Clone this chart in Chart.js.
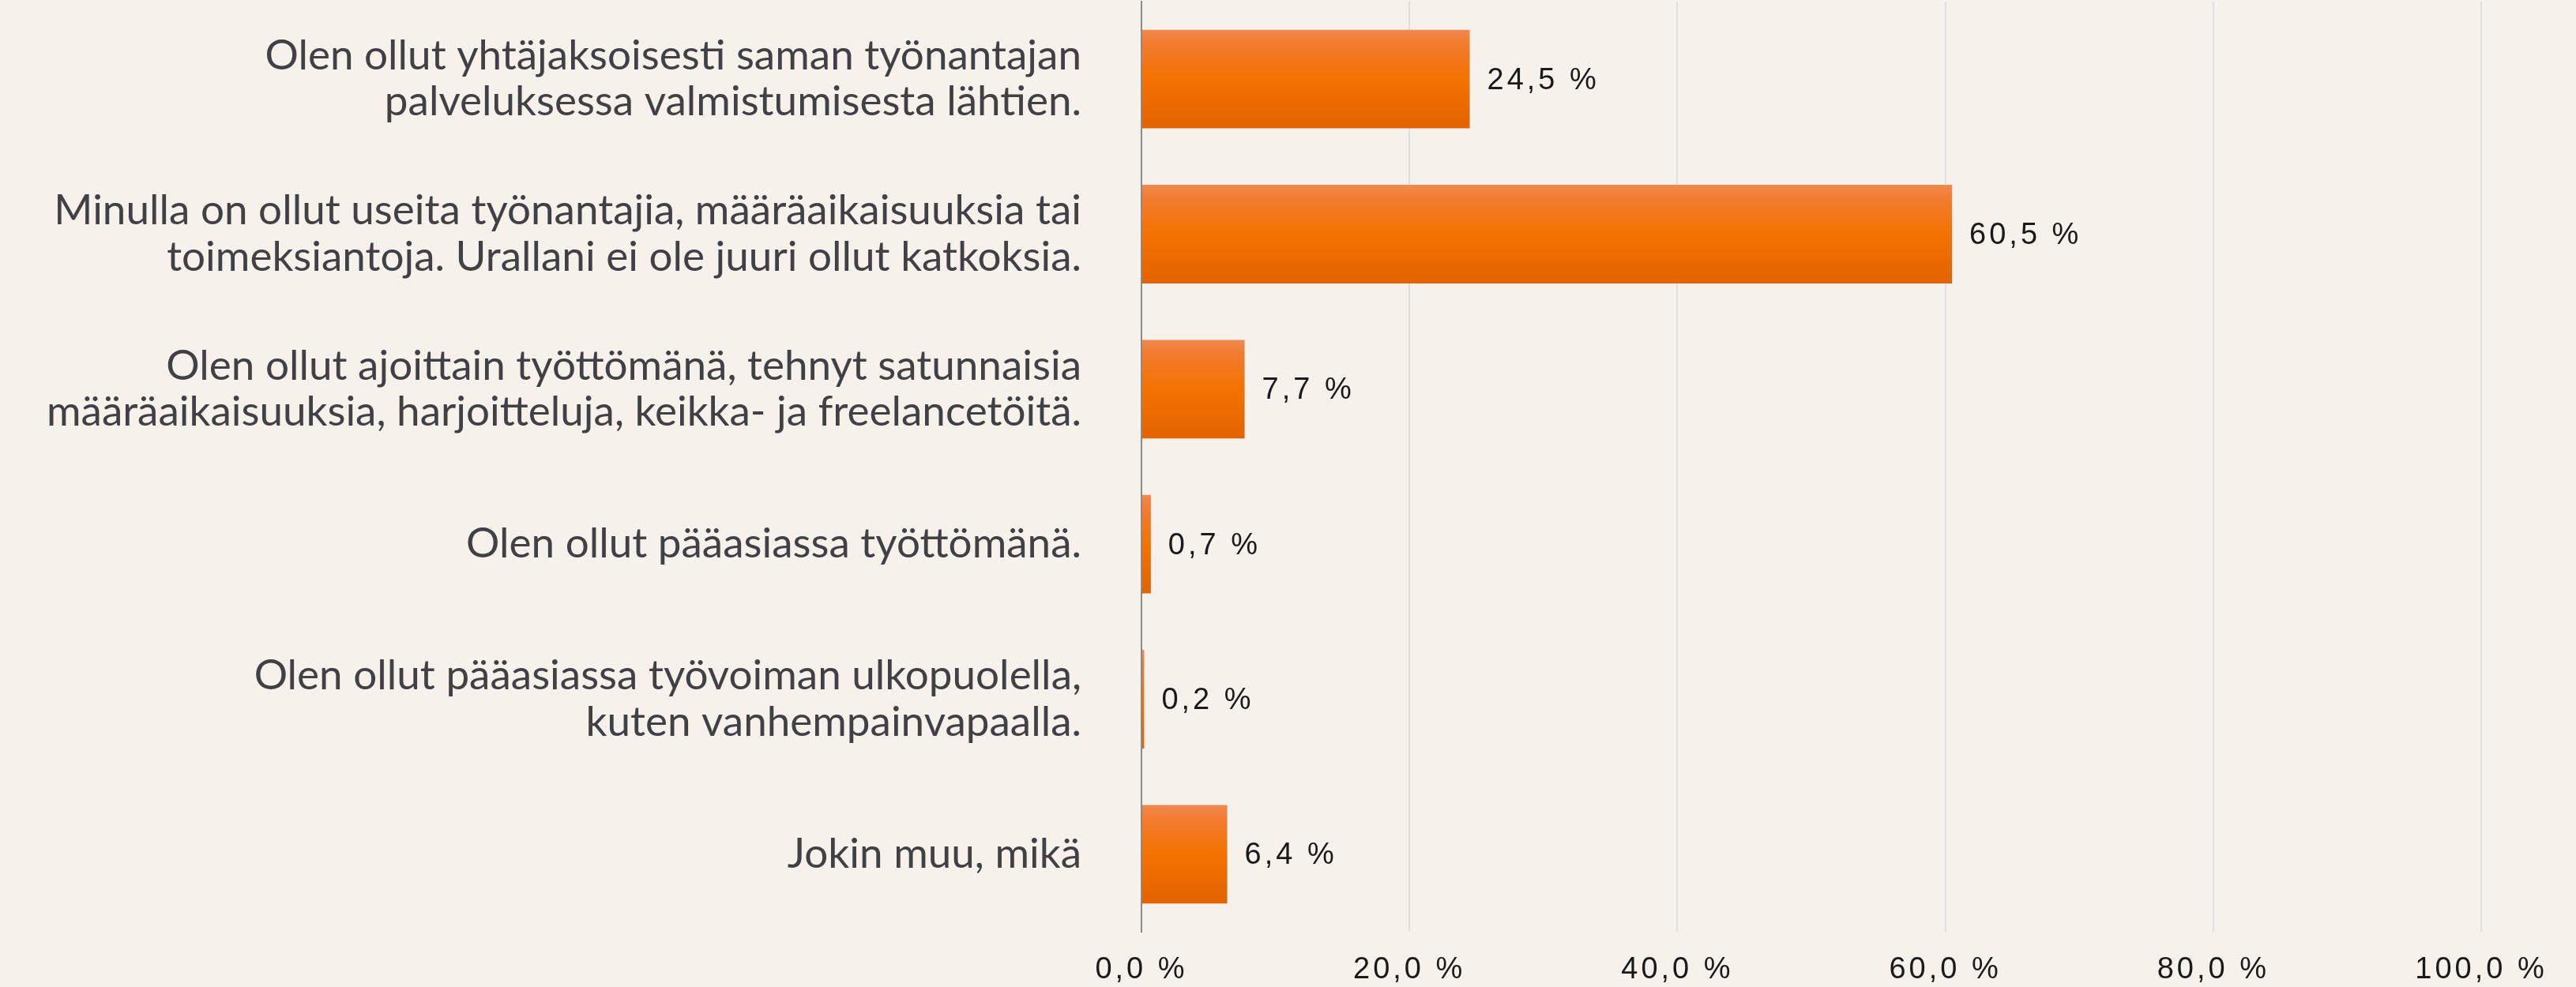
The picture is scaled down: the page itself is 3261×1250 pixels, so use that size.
<!DOCTYPE html>
<html>
<head>
<meta charset="utf-8">
<script src="https://cdn.jsdelivr.net/npm/chart.js@4/dist/chart.umd.min.js"></script>
<style>
  html, body { margin: 0; padding: 0; background: #f6f1eb; }
  #wrap { width: 3261px; height: 1250px; }
</style>
</head>
<body>
<div id="wrap"><canvas id="chart" width="3261" height="1250"></canvas></div>
<script>
// categories (multi-line, as in the original)
const categories = [
    ['Olen ollut yhtäjaksoisesti saman työnantajan', 'palveluksessa valmistumisesta lähtien.'],
    ['Minulla on ollut useita työnantajia, määräaikaisuuksia tai', 'toimeksiantoja. Urallani ei ole juuri ollut katkoksia.'],
    ['Olen ollut ajoittain työttömänä, tehnyt satunnaisia', 'määräaikaisuuksia, harjoitteluja, keikka- ja freelancetöitä.'],
    'Olen ollut pääasiassa työttömänä.',
    ['Olen ollut pääasiassa työvoiman ulkopuolella,', 'kuten vanhempainvapaalla.'],
    'Jokin muu, mikä'
];
const shares = [24.5, 60.5, 7.7, 0.7, 0.2, 6.4];
const xTicks = [0, 20, 40, 60, 80, 100];

const fmt = v => v.toFixed(1).replace('.', ',') + ' %';

const bgPlugin = {
    id: 'bg',
    beforeDraw: (chart) => {
        const ctx = chart.ctx;
        ctx.save();
        ctx.fillStyle = '#f6f1eb';
        ctx.fillRect(0, 0, chart.width, chart.height);
        ctx.restore();
        // spaced-out digits on the x axis only
        const sx = chart.scales.x;
        if (sx && !sx._spaced) {
            const orig = sx.drawLabels.bind(sx);
            sx.drawLabels = (area) => {
                chart.ctx.letterSpacing = '4px';
                orig(area);
                chart.ctx.letterSpacing = '0px';
            };
            sx._spaced = true;
        }
    }
};

// vertical gradient on every bar, built from the bar's own position
const barShade = {
    id: 'barShade',
    beforeDatasetsDraw: (chart) => {
        const ctx = chart.ctx;
        chart.getDatasetMeta(0).data.forEach(bar => {
            const top = bar.y - bar.height / 2, bot = bar.y + bar.height / 2;
            const g = ctx.createLinearGradient(0, top, 0, bot);
            g.addColorStop(0, '#f08a50');
            g.addColorStop(0.12, '#f27c33');
            g.addColorStop(0.5, '#f37200');
            g.addColorStop(1, '#e26300');
            bar.options = Object.assign({}, bar.options, { backgroundColor: g });
        });
    }
};

const valueLabels = {
    id: 'valueLabels',
    afterDatasetsDraw: (chart) => {
        const ctx = chart.ctx;
        const meta = chart.getDatasetMeta(0);
        ctx.save();
        ctx.font = '38px "Liberation Sans", Arial, sans-serif';
        ctx.letterSpacing = '4px';
        ctx.fillStyle = '#1a1a1a';
        ctx.textAlign = 'left';
        ctx.textBaseline = 'middle';
        meta.data.forEach((bar, i) => {
            ctx.fillText(fmt(shares[i]), bar.x + 22, bar.y + 2);
        });
        ctx.restore();
    }
};

new Chart(document.getElementById('chart'), {
    type: 'bar',
    data: {
        labels: categories,
        datasets: [{
            data: shares,
            backgroundColor: (c) => '#f37200',
            borderWidth: 0,
            barPercentage: 0.636,
            categoryPercentage: 1
        }]
    },
    options: {
        indexAxis: 'y',
        responsive: false,
        animation: false,
        devicePixelRatio: 1,
        layout: { padding: { left: 0, right: 120, top: 2, bottom: 0 } },
        plugins: { legend: { display: false }, tooltip: { enabled: false } },
        scales: {
            x: {
                min: 0,
                max: 100,
                afterBuildTicks: (s) => { s.ticks = xTicks.map(v => ({ value: v })); },
                afterFit: (s) => { s.height = 70; s.paddingLeft = 0; s.paddingRight = 0; },
                grid: { color: '#dfe0df', lineWidth: 2, drawTicks: false },
                border: { display: false },
                ticks: {
                    padding: 26,
                    color: '#1a1a1a',
                    font: { family: '"Liberation Sans", Arial, sans-serif', size: 38 },
                    callback: (v) => fmt(v),
                    maxRotation: 0
                }
            },
            y: {
                afterFit: (s) => { s.width = 1445; s.paddingTop = 0; s.paddingBottom = 0; },
                grid: { display: false, drawTicks: false },
                border: { display: true, color: '#8a8a8a', width: 2 },
                ticks: {
                    padding: 76,
                    color: '#414045',
                    font: { family: 'Lato', size: 53, lineHeight: 1.1 }
                }
            }
        }
    },
    plugins: [bgPlugin, barShade, valueLabels]
});
</script>
</body>
</html>
